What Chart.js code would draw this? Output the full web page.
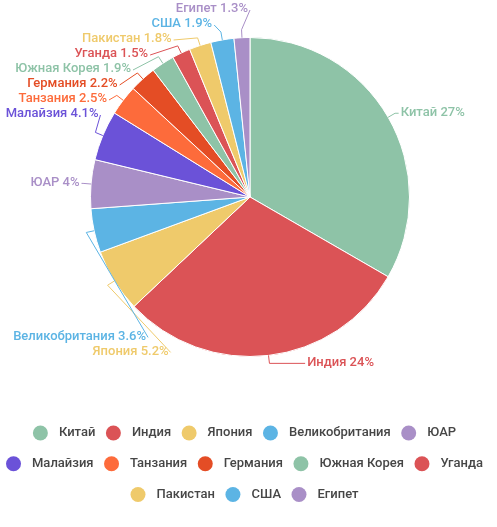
<!DOCTYPE html>
<html>
<head>
<meta charset="utf-8">
<script src="https://cdn.jsdelivr.net/npm/chart.js@4.4.1/dist/chart.umd.min.js"></script>
<style>
  html, body { margin: 0; background: #fff; }
  #wrap { width: 497px; height: 527px; position: relative; }
</style>
</head>
<body>
<div id="wrap"><canvas id="pie"></canvas></div>
<script>
const countries = ['Китай', 'Индия', 'Япония', 'Великобритания', 'ЮАР', 'Малайзия', 'Танзания',
  'Германия', 'Южная Корея', 'Уганда', 'Пакистан', 'США', 'Египет'];
const shares = [27, 24, 5.2, 3.6, 4, 4.1, 2.5, 2.2, 1.9, 1.5, 1.8, 1.9, 1.3];

const colors = ['#8ec3a7', '#db5356', '#efca6b', '#5cb4e4', '#a98fc7', '#6b52d8', '#fd6b3b',
  '#e44d25', '#8ec3a7', '#db5356', '#efca6b', '#5cb4e4', '#a98fc7'];

const FONT = '500 13px Roboto, "Noto Sans", sans-serif';

// groups overlapping labels and spreads each group evenly around its targets
function spreadLabels(list, lineH, minY) {
  let groups = list.map(it => ({ members: [it], wsum: it.weight, ysum: it.y * it.weight }));
  let merged = true;
  while (merged) {
    merged = false;
    for (let i = 0; i < groups.length - 1; i++) {
      const a = groups[i], b = groups[i + 1];
      const n = a.members.length;
      if (a.ysum / a.wsum + n * lineH > b.ysum / b.wsum) {
        groups.splice(i, 2, {
          members: a.members.concat(b.members),
          wsum: a.wsum + b.wsum,
          ysum: a.ysum + b.ysum - n * lineH * b.wsum
        });
        merged = true;
        break;
      }
    }
  }
  groups.forEach(g => {
    const top = Math.max(g.ysum / g.wsum, minY);
    g.members.forEach((m, k) => { m.ly = top + k * lineH; });
  });
}

const outsideLabels = {
  id: 'outsideLabels',
  afterDatasetsDraw(chart) {
    const ctx = chart.ctx;
    const arcs = chart.getDatasetMeta(0).data;
    if (!arcs.length) return;
    const cx = arcs[0].x, cy = arcs[0].y, r = arcs[0].outerRadius;
    const r1 = r + 8, rx = r + 9.5, ry = r + 16.5, gap = 2, lineH = 15, margin = 14;
    const bend = dy => rx * Math.sqrt(Math.max(0, 1 - (dy * dy) / (ry * ry)));

    ctx.save();
    ctx.font = FONT;
    const items = arcs.map((arc, i) => {
      const mid = (arc.startAngle + arc.endAngle) / 2;
      const cos = Math.cos(mid), sin = Math.sin(mid);
      const side = cos >= 0 ? 1 : -1;
      const text = countries[i] + ' ' + shares[i] + '%';
      const w = ctx.measureText(text).width;
      let y = cy + r1 * sin;
      let weight = 1;
      // slide the label along the ring until the text fits in the canvas
      const room = side > 0 ? chart.width - margin - w - gap - cx : cx - margin - w - gap;
      const need = room <= 0 ? ry : (room < rx ? ry * Math.sqrt(1 - (room * room) / (rx * rx)) : 0);
      if (Math.abs(y - cy) < need) {
        y = cy + (sin >= 0 ? need : -need);
        weight = 100;
      }
      return { i, mid, cos, sin, side, text, y, weight };
    });

    const left = items.filter(it => it.side < 0).sort((a, b) => b.mid - a.mid);
    const right = items.filter(it => it.side > 0).sort((a, b) => a.mid - b.mid);
    spreadLabels(left, lineH, 10);
    spreadLabels(right, lineH, 10);

    items.forEach(it => {
      const bx = cx + it.side * bend(it.ly - cy);
      ctx.strokeStyle = colors[it.i];
      ctx.lineWidth = 1;
      ctx.beginPath();
      ctx.moveTo(cx + r * it.cos, cy + r * it.sin);
      ctx.lineTo(cx + r1 * it.cos, cy + r1 * it.sin);
      ctx.lineTo(bx, it.ly);
      ctx.stroke();
      ctx.fillStyle = colors[it.i];
      ctx.textAlign = it.side > 0 ? 'left' : 'right';
      ctx.textBaseline = 'middle';
      ctx.fillText(it.text, bx + it.side * gap, it.ly - 1);
    });
    ctx.restore();
  }
};

const bottomLegend = {
  id: 'bottomLegend',
  afterDraw(chart) {
    const ctx = chart.ctx;
    const dot = 7.5, toText = 26, between = 10.5, maxW = 490;
    ctx.save();
    ctx.font = FONT;
    const rows = [[]];
    let rowW = 0;
    countries.forEach((name, i) => {
      const w = toText + ctx.measureText(name).width;
      const cur = rows[rows.length - 1];
      const add = cur.length ? between + w : w;
      if (cur.length && rowW + add > maxW) {
        rows.push([{ i, w }]);
        rowW = w;
      } else {
        cur.push({ i, w });
        rowW += add;
      }
    });

    const top = chart.chartArea.bottom + 76;
    rows.forEach((row, ri) => {
      const total = row.reduce((s, it) => s + it.w, 0) + between * (row.length - 1);
      let x = chart.width / 2 - 4 - total / 2;
      const y = top + ri * 30.75;
      row.forEach(it => {
        ctx.fillStyle = colors[it.i];
        ctx.beginPath();
        ctx.arc(x + dot, y, dot, 0, Math.PI * 2);
        ctx.fill();
        ctx.fillStyle = '#464646';
        ctx.textAlign = 'left';
        ctx.textBaseline = 'middle';
        ctx.fillText(countries[it.i], x + toText, y);
        x += it.w + between;
      });
    });
    ctx.restore();
  }
};

new Chart(document.getElementById('pie'), {
  type: 'pie',
  data: {
    labels: countries,
    datasets: [{
      data: shares,
      backgroundColor: colors,
      borderColor: '#fff',
      borderWidth: 1
    }]
  },
  options: {
    responsive: true,
    maintainAspectRatio: false,
    animation: false,
    events: [],
    layout: { padding: { top: 37, bottom: 170, left: 3, right: 0 } },
    plugins: {
      legend: { display: false },
      tooltip: { enabled: false }
    }
  },
  plugins: [outsideLabels, bottomLegend]
});
</script>
</body>
</html>
